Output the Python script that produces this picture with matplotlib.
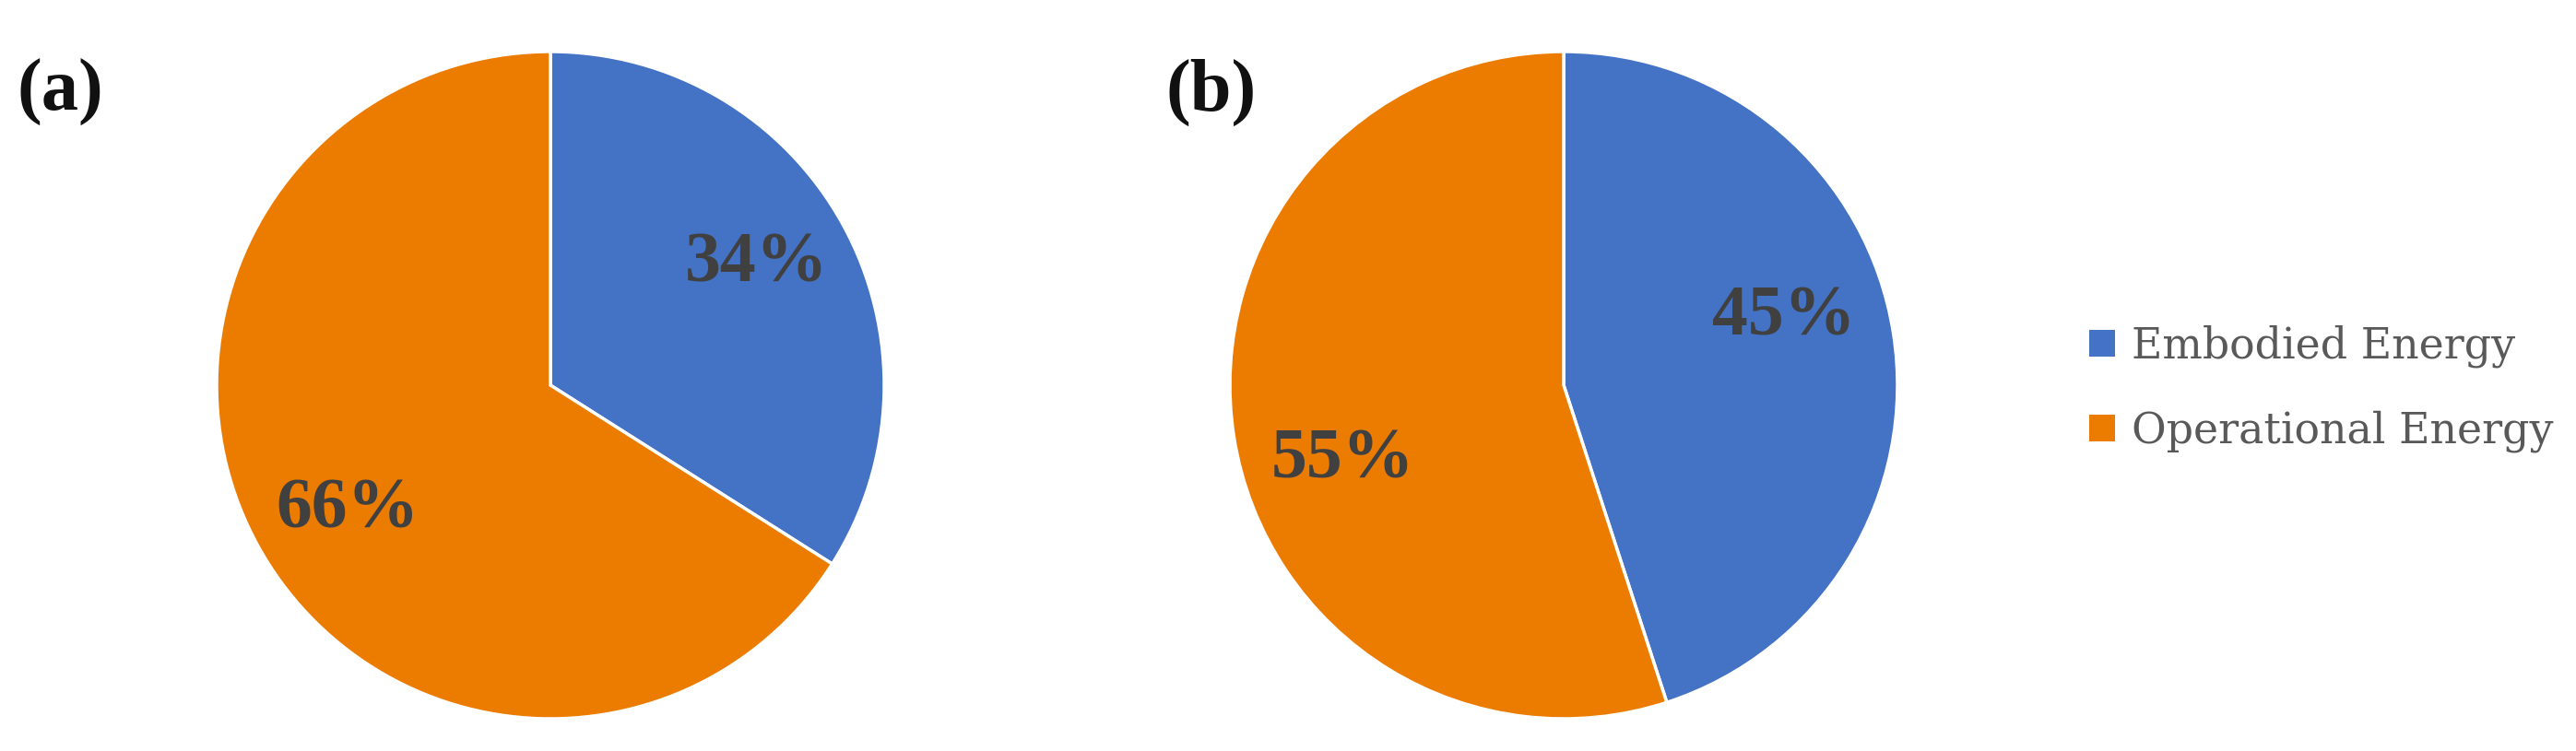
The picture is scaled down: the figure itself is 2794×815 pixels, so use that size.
import matplotlib
matplotlib.use("Agg")
import matplotlib.pyplot as plt
import numpy as np

# ---- data ----
categories = ["Embodied Energy", "Operational Energy"]
panel_a = [34, 66]
panel_b = [45, 55]
panel_labels = ["(a)", "(b)"]
colors = ["#4472C4", "#EC7C00"]

W, H = 2794, 815
fig = plt.figure(figsize=(W / 100, H / 100), dpi=100)
fig.patch.set_facecolor("white")

R = 362
lim = 1.05
centers = [(597, 418), (1696, 418)]
label_offsets = [(1.5, 3.0), (8.0, 10.0)]   # degrees, label rotation tweak
label_dist = [(0.715, 0.715), (0.69, 0.70)]
panel_pos = [(19, 100), (1265, 100)]

wedges_all = None
for i, vals in enumerate([panel_a, panel_b]):
    cx, cy = centers[i]
    half = R * lim
    ax = fig.add_axes([(cx - half) / W, (H - cy - half) / H, 2 * half / W, 2 * half / H])
    wedges, _ = ax.pie(vals, colors=colors, startangle=90, counterclock=False, radius=1,
                       wedgeprops=dict(edgecolor="white", linewidth=2.5))
    ax.set_xlim(-lim, lim)
    ax.set_ylim(-lim, lim)
    ax.set_aspect("equal")
    ax.axis("off")
    for j, w in enumerate(wedges):
        mid = np.deg2rad((w.theta1 + w.theta2) / 2 + label_offsets[i][j])
        d = label_dist[i][j]
        ax.text(d * np.cos(mid), d * np.sin(mid), f"{vals[j]}%", ha="center", va="center",
                fontsize=56, fontweight="bold", family="Liberation Serif", color="#404040")
    px, py = panel_pos[i]
    fig.text(px / W, 1 - py / H, panel_labels[i], ha="left", va="center", fontsize=58,
             fontweight="bold", family="Liberation Serif", color="#111111")
    wedges_all = wedges

leg = fig.legend(wedges_all, categories, loc="center left",
                 bbox_to_anchor=(2266 / W, 1 - 422 / H), frameon=False,
                 borderaxespad=0, borderpad=0, handlelength=0.6, handleheight=0.6,
                 handletextpad=0.4, labelspacing=1.0,
                 prop=dict(family="DejaVu Serif", size=33))
for t in leg.get_texts():
    t.set_color("#595959")
for h in leg.legend_handles:
    h.set_edgecolor("none")

fig.savefig("out.png", dpi=100, facecolor="white")
